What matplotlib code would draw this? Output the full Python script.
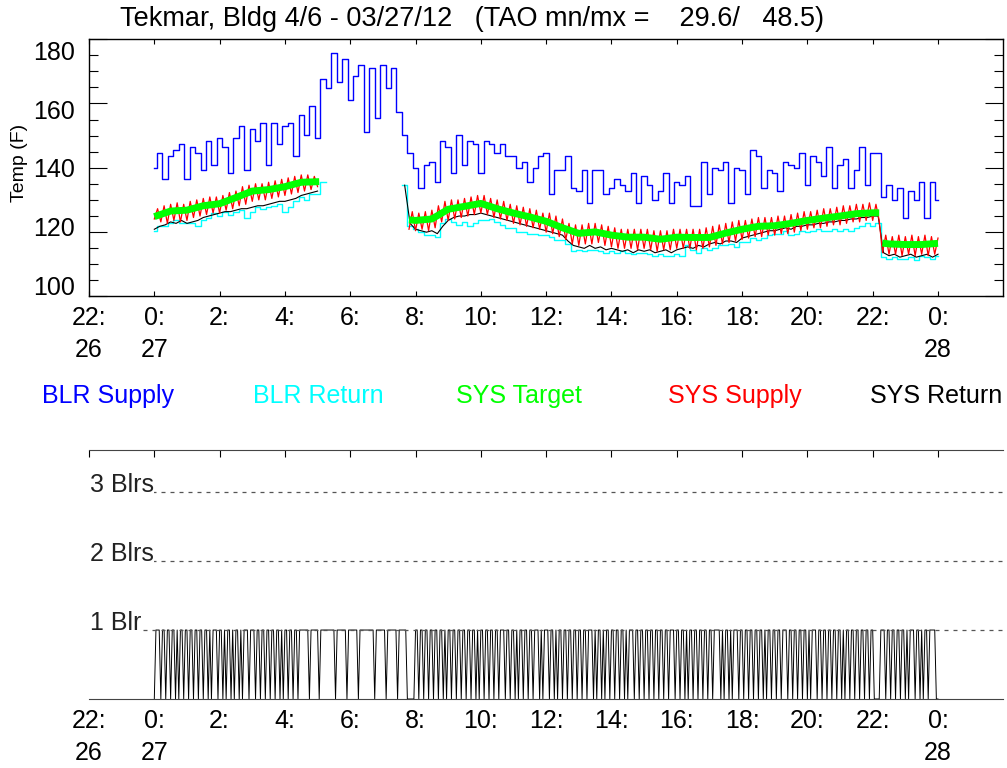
import numpy as np
import matplotlib
matplotlib.use('Agg')
import matplotlib.pyplot as plt
from matplotlib.ticker import FixedLocator

plt.rcParams['font.family'] = ['Liberation Sans', 'DejaVu Sans']

nan = np.nan

title = "Tekmar, Bldg 4/6 - 03/27/12   (TAO mn/mx =    29.6/   48.5)"
hour_ticks = [-2, 0, 2, 4, 6, 8, 10, 12, 14, 16, 18, 20, 22, 24]
hour_labels = ['22:\n26', '0:\n27', '2:', '4:', '6:', '8:', '10:', '12:',
               '14:', '16:', '18:', '20:', '22:', '0:\n28']
temp_labels = [100, 120, 140, 160, 180]
series_names = ['BLR Supply', 'BLR Return', 'SYS Target', 'SYS Supply', 'SYS Return']
series_colors = ['#0000ff', '#00ffff', '#00ff00', '#ff0000', '#000000']
blr_levels = [1, 2, 3]
blr_labels = ['1 Blr', '2 Blrs', '3 Blrs']

# 10 minute samples, 0:00 on the 27th to 0:00 on the 28th (one row per hour)
blr_supply = [
    141, 146, 137, 145, 147, 149,
    137, 148, 146, 140, 150, 142,
    151, 148, 139, 151, 155, 140,
    154, 150, 156, 142, 156, 149,
    155, 156, 145, 159, 152, 162,
    151, 171, 168, 180, 170, 178,
    164, 172, 176, 153, 175, 158,
    176, 168, 175, 160, 152, 146,
    141, 134, 142, 143, 136, 150,
    148, 139, 152, 142, 150, 149,
    139, 150, 149, 146, 149, 145,
    145, 141, 143, 136, 141, 145,
    146, 132, 140, 140, 145, 134,
    133, 140, 129, 140, 140, 132,
    134, 137, 135, 133, 139, 129,
    138, 135, 130, 133, 139, 129,
    136, 135, 138, 128, 128, 143,
    132, 141, 140, 143, 129, 141,
    140, 132, 147, 145, 134, 140,
    139, 133, 143, 142, 141, 146,
    135, 145, 143, 138, 148, 134,
    142, 144, 134, 140, 148, 135,
    146, 146, 131, 135, 130, 134,
    124, 133, 130, 136, 124, 136,
    130]

blr_return = [
    119.5, 121, 121, 122, 123, 122,
    122, 122, 121, 123, 124, 125.5,
    124.5, 126, 125, 126, 126.5, 124,
    126, 127.5, 127, 127.5, 128, 128.5,
    126, 127.5, 129.5, 131, 130, 132,
    132, 136, nan, nan, nan, nan,
    nan, nan, nan, nan, nan, nan,
    nan, nan, nan, nan, 135, 121,
    120, 119, 118, 118, 117.5, 122,
    123.5, 122.5, 121.5, 122.5, 121, 122,
    123, 123, 123.5, 122.5, 121.5, 120.5,
    120.5, 119, 119, 118.5, 118.5, 118,
    118, 117.5, 116.5, 116.5, 115, 112.5,
    113, 112.5, 113, 113, 112.5, 112,
    112.5, 112, 112.5, 112, 111.5, 112,
    112, 111.5, 111, 111.5, 111, 111,
    111.5, 111, 114.5, 113, 112, 113.5,
    113, 113.5, 114.5, 114.5, 115, 114,
    115.5, 115.5, 117, 116.5, 117, 118,
    118.5, 118.5, 119.5, 118, 118.5, 119.5,
    119, 119.5, 120, 119.5, 119.5, 120,
    119.5, 120, 119.5, 120.5, 121, 122,
    121, 122, 110.5, 110, 110.5, 110,
    110, 110.5, 109.5, 111, 110.5, 110,
    111]

sys_return = [
    120, 121, 121.5, 122.5, 122, 123,
    122, 122.5, 123, 124, 124.5, 125,
    125.5, 126, 126, 126.5, 127, 127,
    127.5, 128, 128, 128.5, 129, 129.5,
    129.5, 130, 130.5, 131.5, 132, 132.5,
    133, nan, nan, nan, nan, nan,
    nan, nan, nan, nan, nan, nan,
    nan, nan, nan, nan, 135, 122,
    120, 119.5, 119, 119.5, 118.5, 121,
    123, 124, 124.5, 124.5, 125, 125,
    125.5, 125, 124.5, 124, 123.5, 123,
    122.5, 122, 121.5, 121, 120.5, 120,
    119.5, 119, 118.5, 118, 116, 114.5,
    114, 113.5, 114.5, 113.5, 114, 113,
    113.5, 113, 112.5, 113, 112, 113,
    112.5, 113, 112, 112.5, 113, 112,
    113, 113.5, 114, 113.5, 114.5, 114,
    115, 115.5, 115, 116, 116, 115.5,
    117, 117.5, 118, 118.5, 119, 119.5,
    119.5, 120, 120.5, 120, 121, 121,
    121.5, 121.5, 122, 122, 122.5, 122.5,
    123, 123, 123.5, 123.5, 124, 124,
    124.5, 124.5, 112, 111, 111.5, 110.5,
    111, 111.5, 110.5, 111, 111.5, 110.5,
    111.5]

sys_target_t = [0.0, 0.5, 1.0, 1.5, 2.0, 2.5, 3.0, 3.5, 4.0, 4.5, 5.05, 6.0,
                7.8, 8.0, 8.5, 9.0, 9.5, 10.0, 10.5, 11.0, 11.5, 12.0, 12.5,
                13.0, 13.5, 14.0, 14.5, 15.0, 15.5, 16.0, 16.5, 17.0, 17.5,
                18.0, 18.5, 19.0, 19.5, 20.0, 20.5, 21.0, 21.5, 22.0, 22.2,
                22.25, 22.3, 22.5, 23.0, 23.5, 24.0]
sys_target = [124.3, 126.2, 126.5, 128.0, 128.7, 130.8, 133.0, 133.5, 134.5,
              136.0, 136.2, nan, 123.2, 123.0, 123.5, 126.8, 127.8, 128.8,
              127.0, 125.5, 124.2, 122.7, 120.5, 118.6, 119.1, 118.0, 117.3,
              117.3, 116.6, 117.3, 117.2, 117.2, 118.7, 120.0, 121.0, 121.2,
              122.0, 123.0, 123.8, 124.5, 125.3, 125.6, 125.6, nan, 115.3,
              115.0, 114.8, 114.8, 115.2]

# 6 minute samples: 0:00-5:00 and 7:48-24:00
sys_supply_a = [
    123.5, 127, 122.5, 128, 122, 128.5, 123, 129, 122.5, 128.5,
    123, 129.5, 124, 130, 124.5, 130.5, 125, 131, 125.5, 131,
    125.5, 131.5, 126.5, 132.5, 127, 133, 128, 134.5, 128.5, 135,
    129.5, 135.5, 130, 135.5, 130, 136, 130.5, 136.5, 131, 137,
    131.5, 137.5, 132, 138, 132.5, 138.5, 133, 138.5, 133.5, 138,
    134.5]
sys_supply_b = [
    120, 126, 119.5, 125.5, 120, 126, 119.5, 126.5, 120.5, 128,
    122.5, 129.5, 123, 130, 123.5, 130, 124, 130.5, 124.5, 131,
    125, 131.5, 125.5, 131.5, 125, 130.5, 124, 130, 123.5, 129.5,
    123, 128.5, 122, 128, 121.5, 127.5, 121, 127, 120.5, 126.5,
    120, 125.5, 119, 125.5, 118.5, 124.5, 117.5, 123.5, 116.5, 122,
    115, 121.5, 114.5, 121.5, 115, 122, 115, 122, 115.5, 121.5,
    114.5, 121, 114, 120.5, 113.5, 120, 113.5, 120, 113.5, 120,
    113, 120, 113.5, 120, 113, 119.5, 112.5, 119.5, 113, 119.5,
    113, 120, 113.5, 120, 113.5, 120, 113.5, 120, 113, 120,
    113.5, 120.5, 114, 121, 114.5, 121.5, 115, 122, 115.5, 122.5,
    116, 123, 116.5, 123, 117, 123.5, 117.5, 124, 117.5, 124,
    118, 124, 118, 124.5, 118.5, 124.5, 118.5, 125, 119, 125.5,
    119.5, 126, 120, 126, 120.5, 126.5, 120.5, 127, 121, 127,
    121.5, 127.5, 121.5, 128, 122, 128, 122.5, 128.5, 122.5, 128.5,
    123, 129, 123, 128.5, 123,
    112, 118, 111.5, 117.5, 111.5, 118, 111, 117.5, 111.5, 118,
    111, 117.5, 111.5, 118, 111, 117.5, 111.5, 117]

# boiler on/off, 3 minute samples, one row per 3 hours
boiler_rows = [
    "0111" "0110" "1101" "1010" "1101" "1011" "0110" "1101" "1010" "1110" "1101" "0110" "1011" "0101" "1101",
    "1101" "1011" "0110" "1101" "1010" "1101" "1011" "0111" "1110" "1111" "1011" "1111" "1110" "1111" "1101",
    "1111" "1011" "1111" "1110" "1111" "1101" "1111" "1011" "1110" "0000" "1101" "1011" "0110" "1101" "1010",
    "1101" "1011" "0110" "1101" "1010" "1101" "1011" "0110" "1110" "1101" "1010" "1101" "1011" "0111" "0101",
    "1101" "1010" "1101" "1011" "0110" "1101" "1011" "1010" "1101" "0110" "1101" "1011" "0101" "1101" "1011",
    "0110" "1101" "1011" "0110" "1110" "1101" "1010" "1101" "1011" "0110" "1101" "1110" "1011" "0101" "1101",
    "1011" "0110" "1101" "1010" "1101" "1011" "0111" "0110" "1101" "1011" "0101" "1101" "1011" "0110" "1101",
    "1010" "1101" "1011" "0110" "1101" "1000" "0111" "0110" "1101" "1011" "0101" "1101" "1010" "1101" "1110",
]

W, H = 1007, 768
fig = plt.figure(figsize=(W / 100, H / 100), dpi=100)


def fx(px):
    return px / W


def fy(py):
    return 1 - py / H


x_lo, x_hi = -1.957, 26.0

# ---------- temperature panel ----------
ax = fig.add_axes([fx(89), fy(296), fx(1003.3) - fx(89), fy(39.3) - fy(296)])
y_lo, y_hi = 97.28, 184.66
ax.set_xlim(x_lo, x_hi)
ax.set_ylim(y_lo, y_hi)

t10 = np.arange(len(blr_supply)) / 6.0
ta = np.arange(len(sys_supply_a)) * 0.1
tb = 7.8 + np.arange(len(sys_supply_b)) * 0.1

ax.plot(t10, blr_supply, color=series_colors[0], lw=1.0, drawstyle='steps-mid')
ax.plot(t10, blr_return, color=series_colors[1], lw=1.0, drawstyle='steps-mid')
ax.plot(t10, sys_return, color=series_colors[4], lw=0.8)
ax.plot(ta, sys_supply_a, color=series_colors[3], lw=0.9)
ax.plot(tb, sys_supply_b, color=series_colors[3], lw=0.9)
ax.plot(sys_target_t, sys_target, color=series_colors[2], lw=5, solid_capstyle='butt')

step = (y_hi - y_lo) / 16
ax.yaxis.set_major_locator(FixedLocator([y_lo + k * step for k in range(0, 17, 4)]))
ax.yaxis.set_minor_locator(FixedLocator([y_lo + k * step for k in range(17) if k % 4]))
ax.tick_params(axis='y', which='major', direction='in', length=13, width=0.8,
               left=True, right=True, labelleft=False)
ax.tick_params(axis='y', which='minor', direction='in', length=6.5, width=0.8,
               left=True, right=True)
for v in temp_labels:
    ax.text(-0.0153, v, str(v), transform=ax.get_yaxis_transform(),
            ha='right', va='center', fontsize=18)

ax.set_xticks(hour_ticks, hour_labels)
ax.tick_params(axis='x', direction='in', length=3.5, width=0.8, top=True,
               bottom=True, labelsize=18, pad=7)
for lab in ax.get_xticklabels():
    lab.set_linespacing(1.45)
for s in ax.spines.values():
    s.set_linewidth(1.0)

fig.text(fx(120), fy(19), title, fontsize=19.5, ha='left', va='center')
fig.text(fx(20), fy(163), 'Temp (F)', rotation=90, fontsize=14, ha='center', va='center')

legend_x = [42, 253, 456, 668, 870]
for name, col, px in zip(series_names, series_colors, legend_x):
    fig.text(fx(px), fy(403), name, color=col, fontsize=18, ha='left', va='baseline')

# ---------- boiler panel ----------
ax2 = fig.add_axes([fx(89), fy(699), fx(1003.3) - fx(89), fy(450) - fy(699)])
ax2.set_xlim(x_lo, x_hi)
ax2.set_ylim(0, 3.61)

states = [int(c) for c in "".join(boiler_rows)] + [0]
tb_on = np.arange(len(states)) * (24.0 / (len(states) - 1))
ax2.plot(tb_on, states, color='black', lw=0.7)

for lvl, lab in zip(blr_levels, blr_labels):
    ax2.axhline(lvl, color='#555555', lw=0.9, dashes=(3.2, 4.0))
    ax2.text(0.001, lvl, lab, transform=ax2.get_yaxis_transform(), ha='left',
             va='baseline', fontsize=18, color='#222222',
             bbox=dict(fc='white', ec='none', pad=0.3))

ax2.spines['left'].set_visible(False)
ax2.spines['right'].set_visible(False)
ax2.spines['top'].set_color('#444444')
ax2.spines['bottom'].set_color('#444444')
ax2.set_yticks([])
ax2.set_xticks(hour_ticks, hour_labels)
ax2.tick_params(axis='x', direction='in', length=5, width=0.8, top=True,
                bottom=False, labelsize=18, pad=7)
for lab in ax2.get_xticklabels():
    lab.set_linespacing(1.45)

fig.savefig('out.png', dpi=100)
